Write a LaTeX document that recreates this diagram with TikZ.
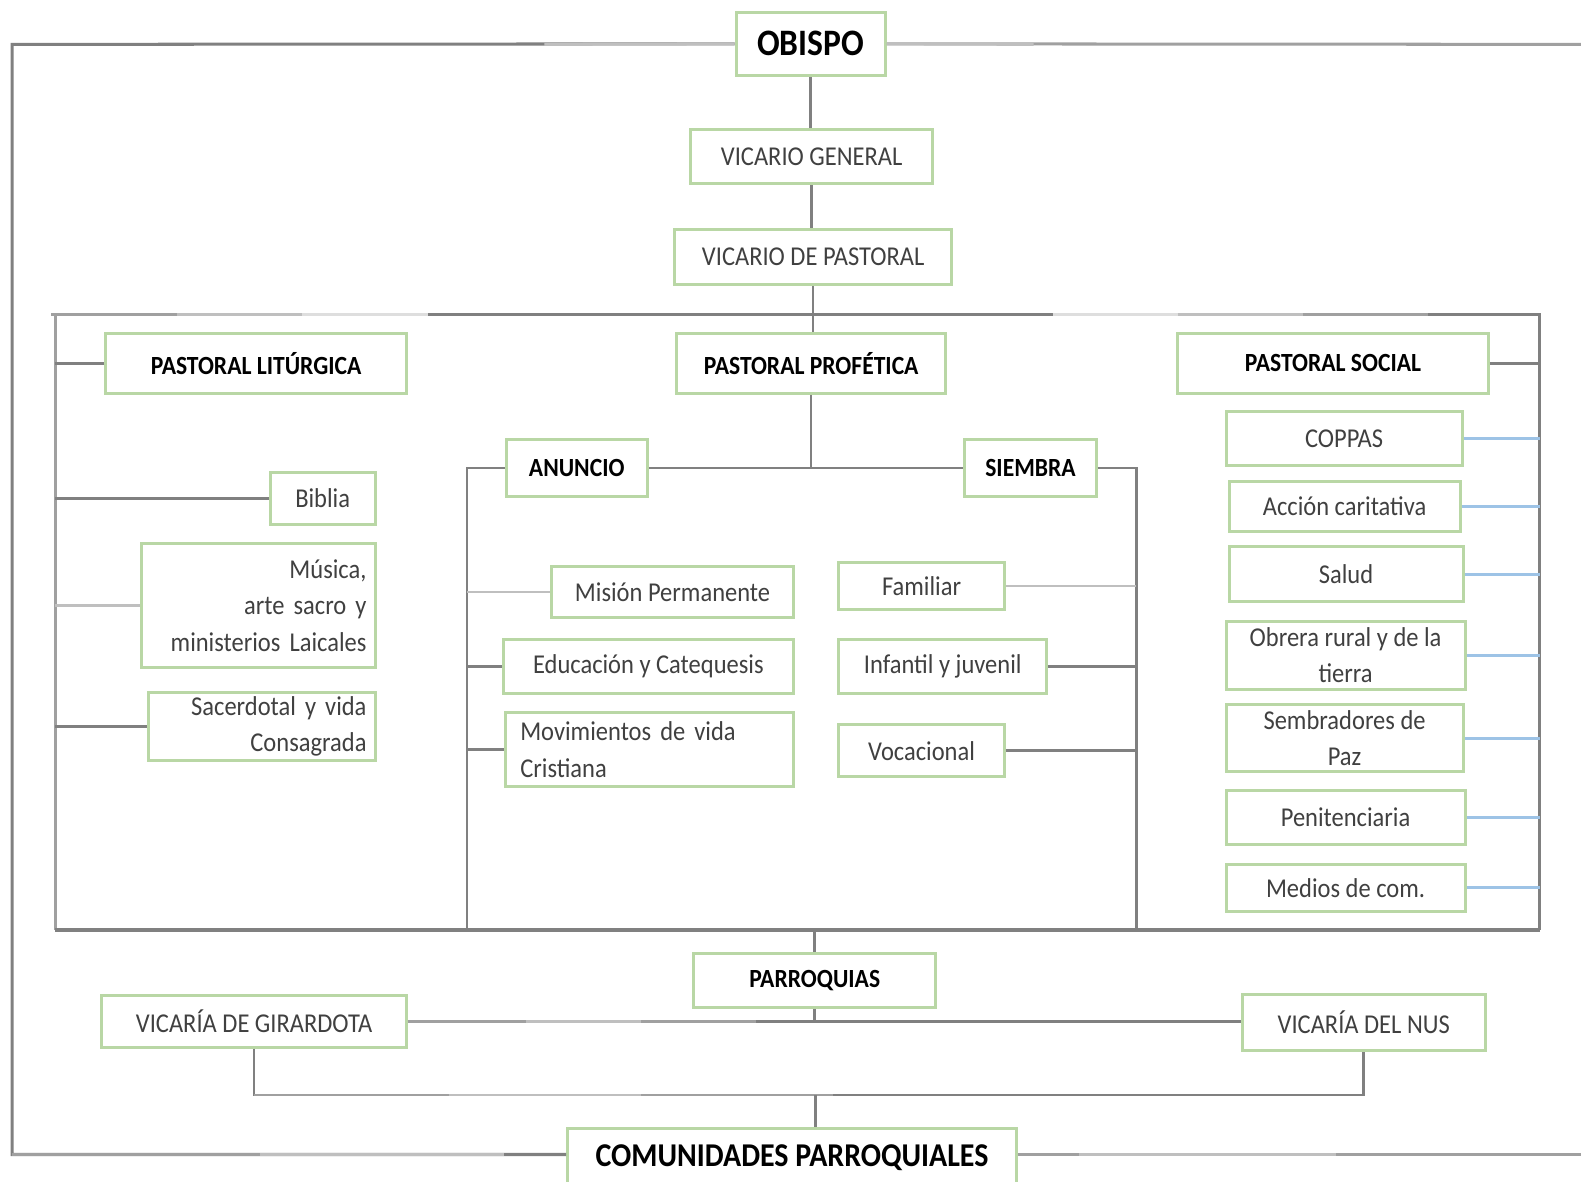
\documentclass[tikz,border=0pt]{standalone}
\usepackage{fontspec}
\setmainfont{Carlito}[FakeStretch=0.9]
\definecolor{boxgreen}{RGB}{185,215,165}
\definecolor{lineDark}{RGB}{128,128,128}
\definecolor{lineMid}{RGB}{160,160,160}
\definecolor{lineLight}{RGB}{191,191,191}
\definecolor{lineFaint}{RGB}{222,222,222}
\definecolor{lineBlue}{RGB}{157,195,230}
\definecolor{txtgray}{RGB}{64,64,64}
\newcommand\nsz{\fontsize{27}{36}\selectfont}
\newcommand\bsz{\fontsize{26}{34}\selectfont\bfseries}
\tikzset{
  box/.style={draw=boxgreen, line width=3pt, fill=white, inner sep=0pt, align=center, text=txtgray, font=\nsz},
  hbox/.style={box, text=black, font=\bsz},
  ln/.style={draw=lineDark, line width=2.5pt},
  frm/.style={draw=lineDark, line width=3pt},
  bl/.style={draw=lineBlue, line width=3pt},
}
\begin{document}
\begin{tikzpicture}[x=1pt,y=-1pt]
\useasboundingbox (0,0) rectangle (1568,1172);
\clip (0,0) rectangle (1568,1172);
\fill[white] (0,0) rectangle (1568,1172);
% coordinates
\coordinate (otl) at (12,44);
\coordinate (otr) at (1568,44);
\coordinate (obl) at (12,1145);
\coordinate (obr) at (1568,1145);
\coordinate (itl) at (55,312);
\coordinate (itr) at (1527,312);
\coordinate (ibl) at (55,922);
\coordinate (ibr) at (1527,922);
\coordinate (colA) at (463,922);
\coordinate (colS) at (1127,922);
\coordinate (bar) at (809,1086);
% nodes
\node[hbox, font=\fontsize{37}{40}\selectfont\bfseries, minimum width=148pt, minimum height=63pt] (obispo) at (804,43.5) {OBISPO};
\node[box, minimum width=240pt, minimum height=54pt] (vg) at (805,155) {VICARIO GENERAL};
\node[box, minimum width=275pt, minimum height=54pt] (vp) at (806.5,255) {VICARIO DE PASTORAL};
\node[hbox, minimum width=298pt, minimum height=59pt] (plit) at (254,360.5) {PASTORAL LITÚRGICA};
\node[hbox, minimum width=267pt, minimum height=59pt] (ppro) at (804.5,360.5) {PASTORAL PROFÉTICA};
\node[hbox, minimum width=308pt, minimum height=59pt] (psoc) at (1322,360.5) {PASTORAL SOCIAL};
\node[hbox, minimum width=140pt, minimum height=56pt] (anuncio) at (572,464) {ANUNCIO};
\node[hbox, minimum width=130pt, minimum height=56pt] (siembra) at (1022,464) {SIEMBRA};
\node[box, minimum width=104pt, minimum height=51pt] (biblia) at (320,494.5) {Biblia};
\node[box, text width=215pt, minimum width=232pt, minimum height=123pt, align=right] (musica) at (256,600.5) {Música,\\arte sacro y\\ministerios Laicales};
\node[box, text width=208pt, minimum width=225pt, minimum height=67pt, align=right] (sacer) at (259.5,720.5) {Sacerdotal y vida\\Consagrada};
\node[box, minimum width=240pt, minimum height=50pt] (mision) at (667,587) {Misión Permanente};
\node[box, minimum width=288pt, minimum height=54pt] (educ) at (643,661) {Educación y Catequesis};
\node[box, text width=256pt, minimum width=286pt, minimum height=73pt, align=left] (movim) at (644,743.5) {Movimientos de vida\\Cristiana};
\node[box, minimum width=164pt, minimum height=46pt] (familiar) at (914,581) {Familiar};
\node[box, minimum width=206pt, minimum height=54pt] (infantil) at (935,661) {Infantil y juvenil};
\node[box, minimum width=164pt, minimum height=51pt] (vocac) at (914,744.5) {Vocacional};
\node[box, minimum width=234pt, minimum height=54pt] (coppas) at (1333,435) {COPPAS};
\node[box, minimum width=229pt, minimum height=49pt] (accion) at (1333.5,502.5) {Acción caritativa};
\node[box, minimum width=232pt, minimum height=55pt] (salud) at (1335,569.5) {Salud};
\node[box, minimum width=237pt, minimum height=68pt] (obrera) at (1334.5,650) {Obrera rural y de la\\tierra};
\node[box, minimum width=235pt, minimum height=66pt] (sembr) at (1333.5,732) {Sembradores de\\Paz};
\node[box, minimum width=237pt, minimum height=54pt] (penit) at (1334.5,811) {Penitenciaria};
\node[box, minimum width=237pt, minimum height=47pt] (medios) at (1334.5,880.5) {Medios de com.};
\node[hbox, minimum width=240pt, minimum height=53pt] (parroq) at (808,972.5) {PARROQUIAS};
\node[box, minimum width=302pt, minimum height=51pt] (girar) at (252,1013) {VICARÍA DE GIRARDOTA};
\node[box, minimum width=241pt, minimum height=55pt] (nus) at (1352.5,1014) {VICARÍA DEL NUS};
\node[hbox, font=\fontsize{33}{36}\selectfont\bfseries, minimum width=445pt, minimum height=70pt, anchor=north, text depth=16pt] (comu) at (785.5,1118) {COMUNIDADES PARROQUIALES};
% outer frame
\draw[frm] (obispo.west) -- (otl) -- (obl) -- (obl -| comu.west);
\draw[frm, draw=lineMid] (obispo.east) -- (otr);
\draw[frm, draw=lineMid] (comu.east |- obr) -- (obr);
\draw[frm, draw=lineLight] (540,44) -- (obispo.west);
\draw[frm, draw=lineLight] (obispo.east) -- (1025,44);
\draw[frm, draw=lineMid] (12,1145) -- (258,1145);
\draw[frm, draw=lineLight] (258,1145) -- (500,1145);
\draw[frm, draw=lineLight] (1070,1145) -- (1325,1145);
% main vertical
\draw[ln] (obispo.south) -- (obispo.south |- vg.north);
\draw[ln] (vg.south) -- (vg.south |- vp.north);
\draw[ln] (vp.south) -- (vp.south |- ppro.north);
% inner frame
\draw[frm] (itl) -- (itr) -- (ibr);
\draw[frm, draw=lineMid] (itl) -- (ibl);
\draw[frm, line width=4pt] (ibl) -- (ibr);
\draw[frm, draw=lineMid] (51,312) -- (176,312);
\draw[frm, draw=lineLight] (176,312) -- (300,312);
\draw[frm, draw=lineFaint] (300,312) -- (424,312);
\draw[frm, draw=lineFaint] (1044,312) -- (1168,312);
\draw[frm, draw=lineLight] (1168,312) -- (1292,312);
\draw[frm, draw=lineMid] (1292,312) -- (1416,312);
% headers to frame
\draw[ln] (plit.west) -- (plit.west -| itl);
\draw[ln] (psoc.east) -- (psoc.east -| itr);
% liturgica
\draw[ln] (biblia.west) -- (biblia.west -| itl);
\draw[ln, draw=lineLight] (musica.west) -- (musica.west -| itl);
\draw[ln] (sacer.west) -- (sacer.west -| itl);
% profetica
\draw[ln] (ppro.south) -- (ppro.south |- anuncio.east);
\draw[ln] (anuncio.east) -- (siembra.west);
\draw[ln] (anuncio.west) -- (anuncio.west -| colA) -- (colA);
\draw[ln] (siembra.east) -- (siembra.east -| colS) -- (colS);
\draw[ln, draw=lineLight] (mision.west) -- (mision.west -| colA);
\draw[ln] (educ.west) -- (educ.west -| colA);
\draw[ln] (movim.west) -- (movim.west -| colA);
\draw[ln, draw=lineLight] (familiar.east) -- (familiar.east -| colS);
\draw[ln] (infantil.east) -- (infantil.east -| colS);
\draw[ln] (vocac.east) -- (vocac.east -| colS);
% social
\foreach \n in {coppas,accion,salud,obrera,sembr,penit,medios}
  \draw[bl] (\n.east) -- (\n.east -| itr);
% parroquias
\draw[ln] (parroq.north |- ibl) -- (parroq.north);
\draw[ln] (parroq.south) -- (parroq.south |- girar.east);
\draw[ln] (girar.east) -- (girar.east -| nus.west);
\draw[ln, draw=lineMid] (girar.east) -- (522,1013);
\draw[ln, draw=lineLight] (522,1013) -- (636,1013);
\draw[ln, draw=lineMid] (636,1013) -- (750,1013);
\draw[ln] (girar.south) -- (girar.south |- bar) -- (bar -| nus.south) -- (nus.south);
\draw[ln, draw=lineMid] (girar.south |- bar) -- (445,1086);
\draw[ln, draw=lineLight] (445,1086) -- (636,1086);
\draw[ln, draw=lineMid] (636,1086) -- (826,1086);
\draw[ln] (bar) -- (bar |- comu.north);
\end{tikzpicture}
\end{document}
